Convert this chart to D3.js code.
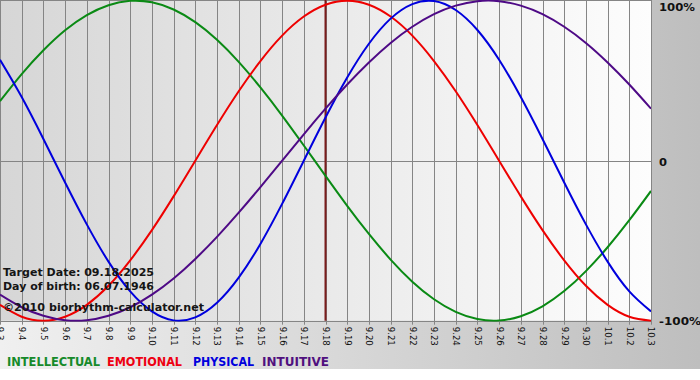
<!DOCTYPE html>
<html>
<head>
<meta charset="utf-8">
<script src="https://cdn.jsdelivr.net/npm/d3@7"></script>
<style>
  html, body { margin: 0; padding: 0; background: #ffffff; }
  svg { display: block; }
  text { font-family: "DejaVu Sans", Verdana, sans-serif; }
</style>
</head>
<body>
<svg id="chart" width="700" height="380"></svg>
<script>
// ---- data ----
const dayLabels = ["9.3","9.4","9.5","9.6","9.7","9.8","9.9","9.10","9.11","9.12","9.13","9.14","9.15","9.16","9.17","9.18","9.19","9.20","9.21","9.22","9.23","9.24","9.25","9.26","9.27","9.28","9.29","9.30","10.1","10.2","10.3"];
const intellectual = [0.372,0.541,0.690,0.815,0.910,0.972,0.999,0.990,0.945,0.866,0.756,0.618,0.458,0.282,0.095,-0.095,-0.282,-0.458,-0.618,-0.756,-0.866,-0.945,-0.990,-0.999,-0.972,-0.910,-0.815,-0.690,-0.541,-0.372,-0.189];
const emotional = [-0.901,-0.975,-1.000,-0.975,-0.901,-0.782,-0.623,-0.434,-0.223,0.000,0.223,0.434,0.623,0.782,0.901,0.975,1.000,0.975,0.901,0.782,0.623,0.434,0.223,0.000,-0.223,-0.434,-0.623,-0.782,-0.901,-0.975,-1.000];
const physical = [0.631,0.398,0.136,-0.136,-0.398,-0.631,-0.817,-0.942,-0.998,-0.979,-0.888,-0.731,-0.520,-0.270,0.000,0.270,0.520,0.731,0.888,0.979,0.998,0.942,0.817,0.631,0.398,0.136,-0.136,-0.398,-0.631,-0.817,-0.942];
const intuitive = [-0.837,-0.916,-0.969,-0.997,-0.997,-0.969,-0.916,-0.837,-0.736,-0.614,-0.476,-0.325,-0.165,0.000,0.165,0.325,0.476,0.614,0.736,0.837,0.916,0.969,0.997,0.997,0.969,0.916,0.837,0.736,0.614,0.476,0.325];
const yTickValues = [1, 0, -1];
const yTickLabels = ["100%", "0", "-100%"];
const targetIndex = 15;
const seriesNames = ["INTELLECTUAL", "EMOTIONAL", "PHYSICAL", "INTUITIVE"];
const infoLines = ["Target Date: 09.18.2025", "Day of birth: 06.07.1946", "\u00A92010 biorhythm-calculator.net"];

// ---- styles ----
const colors = ["#0a8a14", "#ee0000", "#0000dd", "#4e0a86"];
const legendColors = ["#168a2a", "#ee0011", "#0000dd", "#50107f"];

const svg = d3.select("#chart");
const W = 700, H = 380;
const plot = { left: 0, right: 651, top: 0.7, bottom: 320.7 };

const defs = svg.append("defs");
const og = defs.append("linearGradient").attr("id", "outerGrad").attr("x1", "0").attr("x2", "1").attr("y1", "0").attr("y2", "0");
og.append("stop").attr("offset", "0").attr("stop-color", "#f0f0f0");
og.append("stop").attr("offset", "1").attr("stop-color", "#bebebe");
const pg = defs.append("linearGradient").attr("id", "plotGrad").attr("x1", "0").attr("x2", "1").attr("y1", "0").attr("y2", "0");
pg.append("stop").attr("offset", "0").attr("stop-color", "#d6d6d6");
pg.append("stop").attr("offset", "1").attr("stop-color", "#fdfdfd");
defs.append("clipPath").attr("id", "plotClip").append("rect")
  .attr("x", plot.left).attr("y", 0).attr("width", plot.right - plot.left).attr("height", plot.bottom + 1);

svg.append("rect").attr("x", 0).attr("y", 0).attr("width", W).attr("height", 369).attr("fill", "url(#outerGrad)");
svg.append("rect").attr("x", plot.left).attr("y", 0).attr("width", plot.right - plot.left).attr("height", plot.bottom)
  .attr("fill", "url(#plotGrad)");

const x = d3.scaleLinear().domain([0, dayLabels.length - 1]).range([plot.left, plot.right]);
const y = d3.scaleLinear().domain([-1, 1]).range([plot.bottom, plot.top]);

// vertical grid lines
svg.append("g").selectAll("line").data(d3.range(dayLabels.length)).join("line")
  .attr("x1", d => Math.round(x(d)) + 0.5).attr("x2", d => Math.round(x(d)) + 0.5)
  .attr("y1", 0).attr("y2", plot.bottom + 4)
  .attr("stroke", "#858585").attr("stroke-width", 1);

// top border, zero line, bottom axis line
[plot.top - 0.2, y(0), plot.bottom].forEach(v => {
  svg.append("line").attr("x1", plot.left).attr("x2", plot.right + 1)
    .attr("y1", Math.round(v) + 0.5).attr("y2", Math.round(v) + 0.5)
    .attr("stroke", "#858585").attr("stroke-width", 1);
});

// target line
svg.append("line").attr("x1", x(targetIndex)).attr("x2", x(targetIndex))
  .attr("y1", 0).attr("y2", plot.bottom)
  .attr("stroke", "#7a1c1c").attr("stroke-width", 2);

// curves
const line = d3.line().x((d, i) => x(i)).y(d => y(d)).curve(d3.curveNatural);
const gCurves = svg.append("g").attr("clip-path", "url(#plotClip)");
[intellectual, emotional, physical, intuitive].forEach((s, k) => {
  gCurves.append("path").attr("d", line(s)).attr("fill", "none")
    .attr("stroke", colors[k]).attr("stroke-width", 2).attr("stroke-linejoin", "round");
});

// x axis labels (rotated)
const xAxis = d3.axisBottom(x).tickValues(d3.range(dayLabels.length)).tickFormat(i => dayLabels[i]).tickSize(0).tickPadding(0);
const gx = svg.append("g").attr("transform", `translate(0,${plot.bottom})`).call(xAxis);
gx.select(".domain").remove();
gx.selectAll(".tick text")
  .attr("transform", "translate(0,6) rotate(90)")
  .attr("x", 0).attr("y", 0).attr("dy", "0.35em")
  .attr("text-anchor", "start")
  .attr("font-size", "8.6px")
  .attr("font-family", "DejaVu Sans, Verdana, sans-serif")
  .attr("fill", "#111");

// y labels on right
const yLabelBase = [10.7, 165.7, 325];
const yLabelLen = [36, 8, 42];
yTickValues.forEach((v, i) => {
  svg.append("text").attr("x", 659).attr("y", yLabelBase[i])
    .attr("font-size", "10.5px").attr("font-weight", "bold").attr("fill", "#111")
    .attr("textLength", yLabelLen[i]).attr("lengthAdjust", "spacingAndGlyphs")
    .text(yTickLabels[i]);
});

// info text
const infoBase = [276, 290, 311];
const infoLen = [151, 151, 201];
infoLines.forEach((t, i) => {
  svg.append("text").attr("x", 3).attr("y", infoBase[i])
    .attr("font-size", "11px").attr("font-weight", "bold").attr("fill", "#151515")
    .attr("textLength", infoLen[i]).attr("lengthAdjust", "spacingAndGlyphs")
    .text(t);
});

// legend
const legX = [7, 107, 193, 262];
const legLen = [93, 75, 61, 67];
seriesNames.forEach((n, i) => {
  svg.append("text").attr("x", legX[i]).attr("y", 365.7)
    .attr("font-size", "11.5px").attr("font-weight", "bold").attr("fill", legendColors[i])
    .attr("textLength", legLen[i]).attr("lengthAdjust", "spacingAndGlyphs")
    .text(n);
});
</script>
</body>
</html>
